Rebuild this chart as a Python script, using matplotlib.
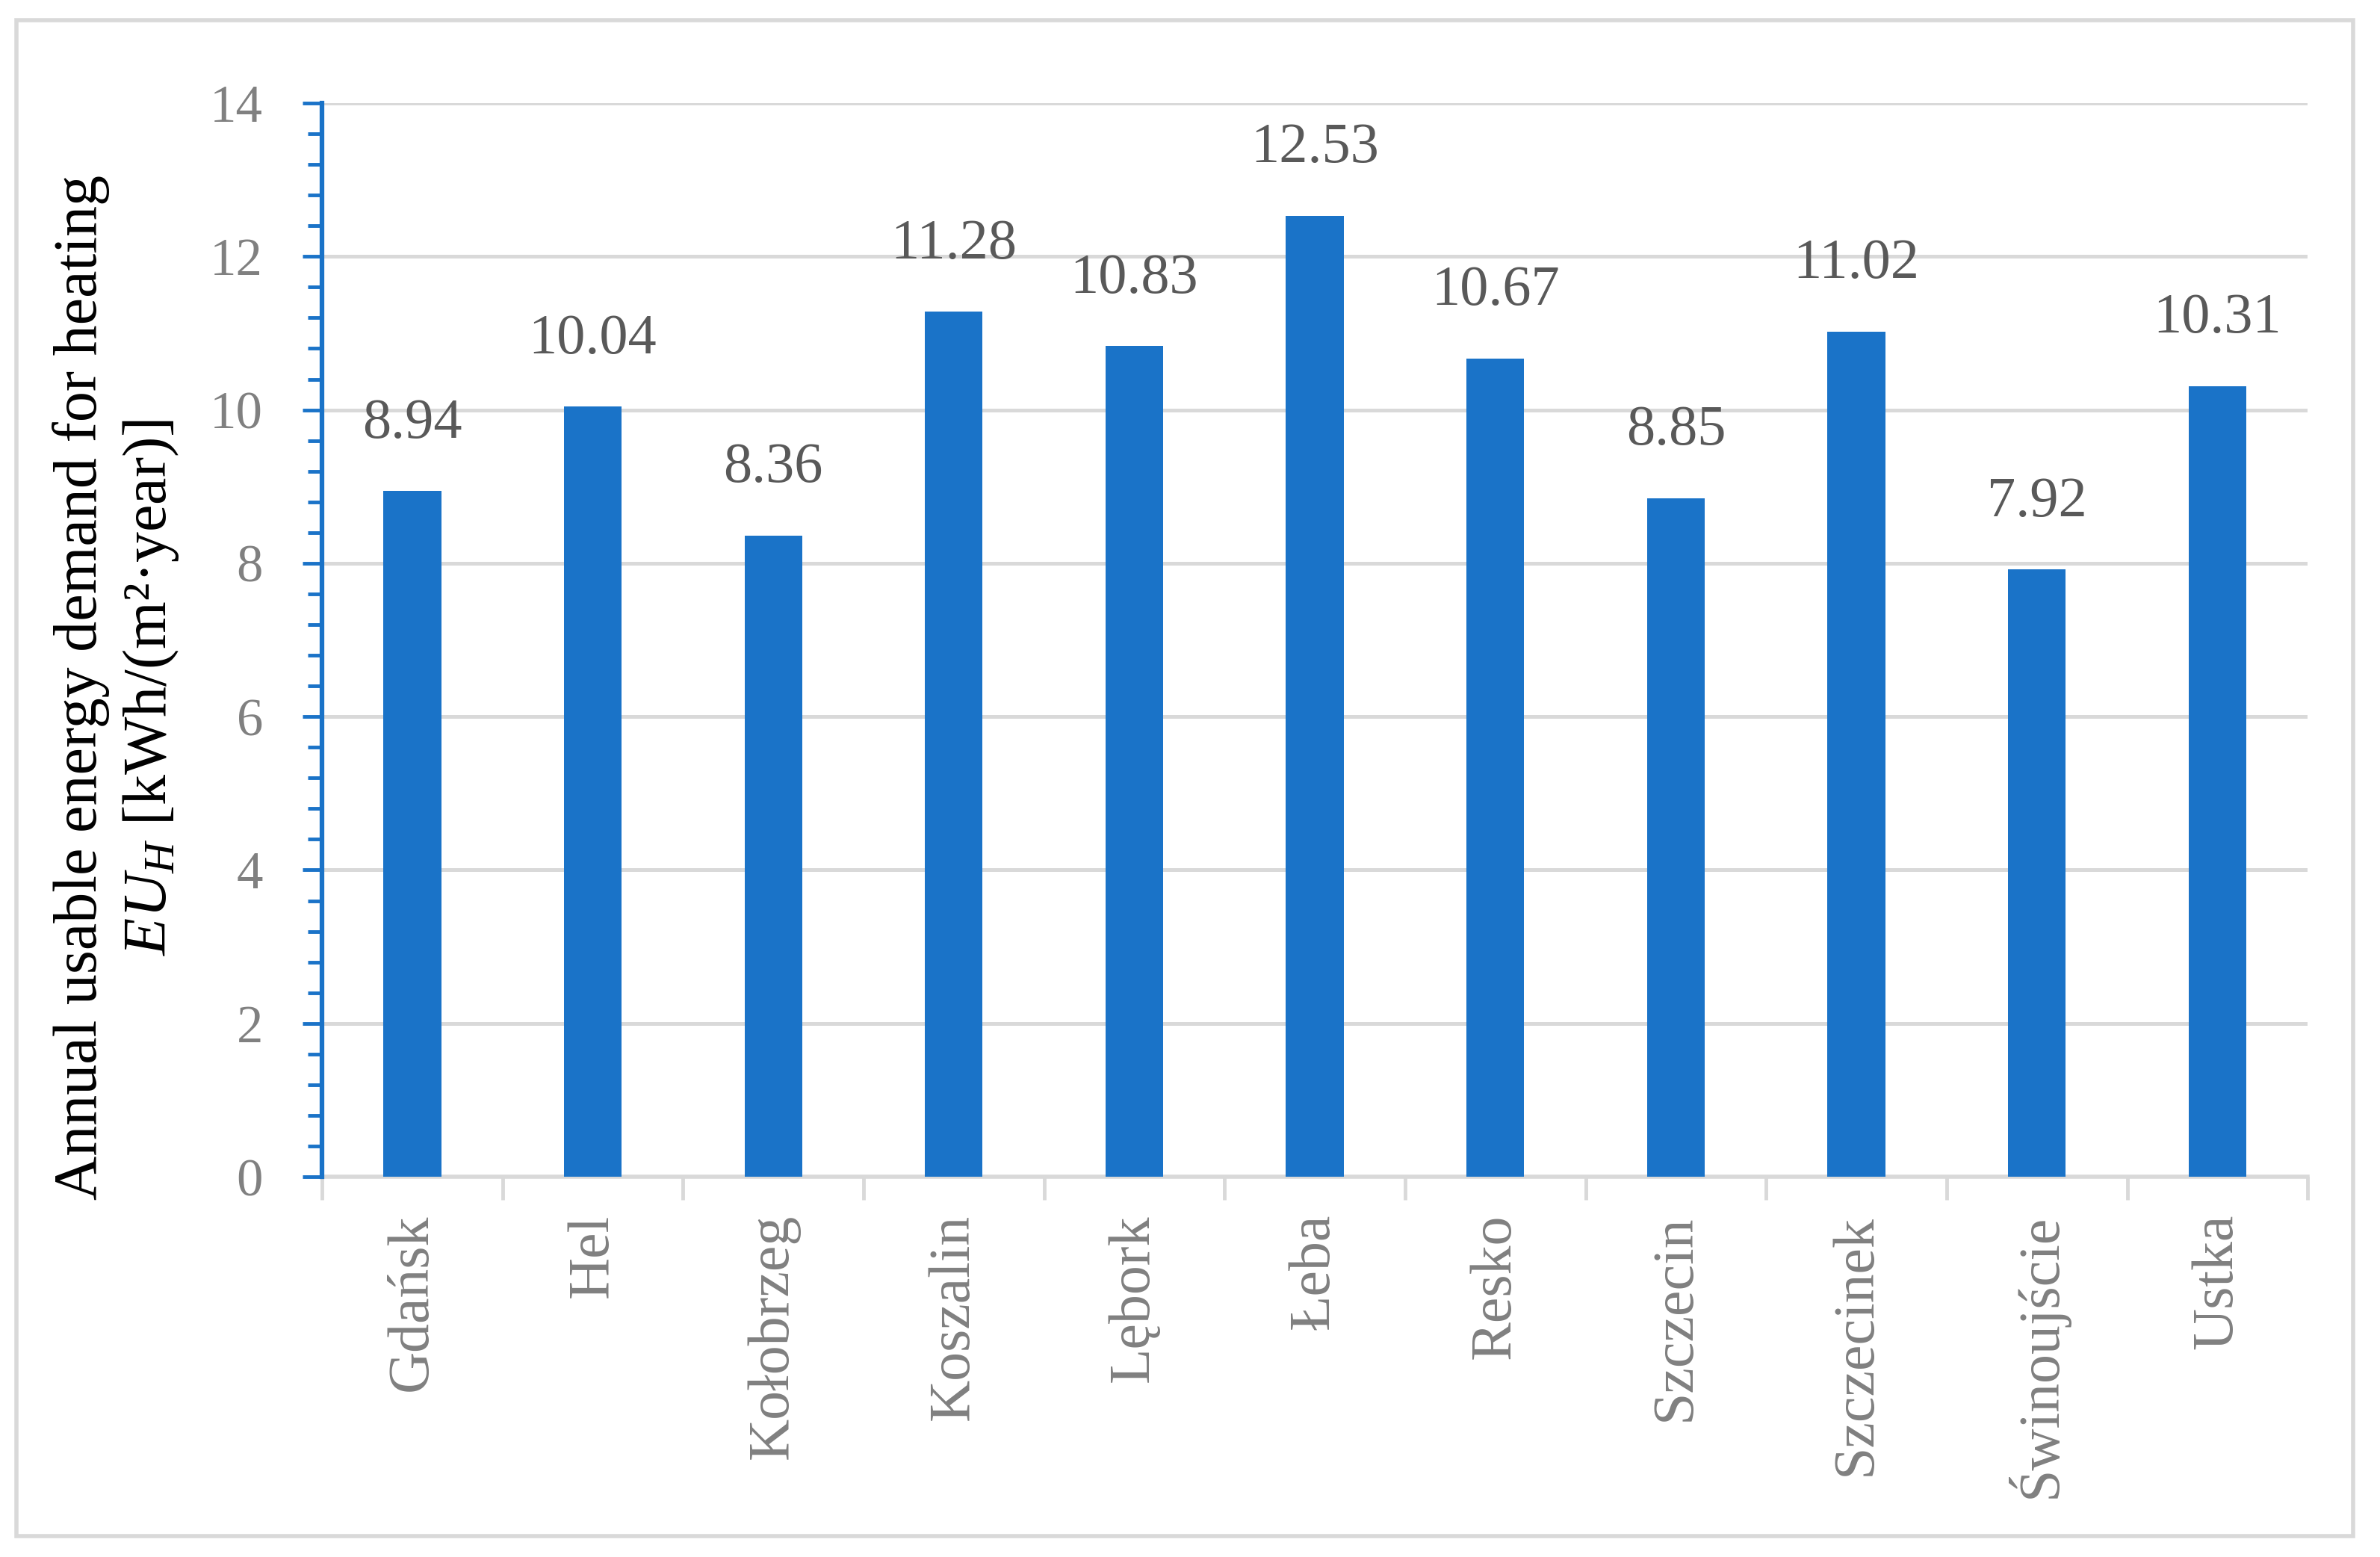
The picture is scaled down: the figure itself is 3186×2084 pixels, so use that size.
import matplotlib
matplotlib.use("Agg")
import matplotlib.pyplot as plt
from matplotlib.ticker import MultipleLocator
from matplotlib.patches import Rectangle
import numpy as np

cities = ['Gdańsk', 'Hel', 'Kołobrzeg', 'Koszalin', 'Lębork', 'Łeba',
          'Resko', 'Szczecin', 'Szczecinek', 'Świnoujście', 'Ustka']
eu_h = [8.94, 10.04, 8.36, 11.28, 10.83, 12.53, 10.67, 8.85, 11.02, 7.92, 10.31]
y_ticks = [0, 2, 4, 6, 8, 10, 12, 14]

BLUE = '#1A73C8'
GRID = '#D9D9D9'

plt.rcParams['font.family'] = ['Liberation Serif', 'DejaVu Serif']
plt.rcParams['mathtext.fontset'] = 'custom'
plt.rcParams['mathtext.rm'] = 'Liberation Serif'
plt.rcParams['mathtext.it'] = 'Liberation Serif:italic'

dpi = 100
fig = plt.figure(figsize=(3186 / dpi, 2084 / dpi), dpi=dpi)
ax = fig.add_axes([0.1353, 0.2442, 0.9696 - 0.1353, 0.9338 - 0.2442])

x = np.arange(len(cities))
ax.bar(x, eu_h, width=0.32, color=BLUE, zorder=3)

for xi, v in zip(x, eu_h):
    ax.annotate(f'{v:.2f}', (xi, v), xytext=(0, 40), textcoords='offset points',
                ha='center', va='bottom', fontsize=55, color='#595959')

ax.set_xlim(-0.5, len(cities) - 0.5)
ax.set_ylim(0, 14)
ax.set_yticks(y_ticks)
ax.yaxis.set_minor_locator(MultipleLocator(0.4))
ax.yaxis.grid(True, color=GRID, linewidth=3.6, zorder=0)
ax.set_axisbelow(True)

# category boundaries carry the x ticks
ax.set_xticks(np.arange(-0.5, len(cities), 1.0))
ax.set_xticklabels([])
ax.set_xticks(x, minor=True)
ax.set_xticklabels(cities, minor=True, rotation=90, fontsize=56, color='#808080', va='top')
ax.tick_params(axis='x', which='major', length=22, width=3.5, color=GRID, direction='out')
ax.tick_params(axis='x', which='minor', length=0, pad=36)

ax.tick_params(axis='y', which='major', length=19, width=3.5, color=BLUE,
               labelsize=51, labelcolor='#808080', pad=38)
ax.tick_params(axis='y', which='minor', length=14, width=3.5, color=BLUE)

for s in ['top', 'right']:
    ax.spines[s].set_visible(False)
ax.spines['left'].set_color(BLUE)
ax.spines['left'].set_linewidth(4.5)
ax.spines['left'].set_zorder(4)
ax.spines['bottom'].set_color(GRID)
ax.spines['bottom'].set_linewidth(4)

fig.text(0.049, 0.5585,
         'Annual usable energy demand for heating\n$EU_H$ [kWh/(m²·year)]',
         rotation=90, ha='center', va='center', multialignment='center',
         fontsize=59, color='black', linespacing=1.25)

# outer frame
fig.patches.append(Rectangle((22 / 3186, 1 - 2056 / 2084), (3150 - 22) / 3186, (2056 - 27) / 2084,
                             transform=fig.transFigure, fill=False, edgecolor=GRID, linewidth=4))

fig.savefig('out.png', dpi=dpi)
